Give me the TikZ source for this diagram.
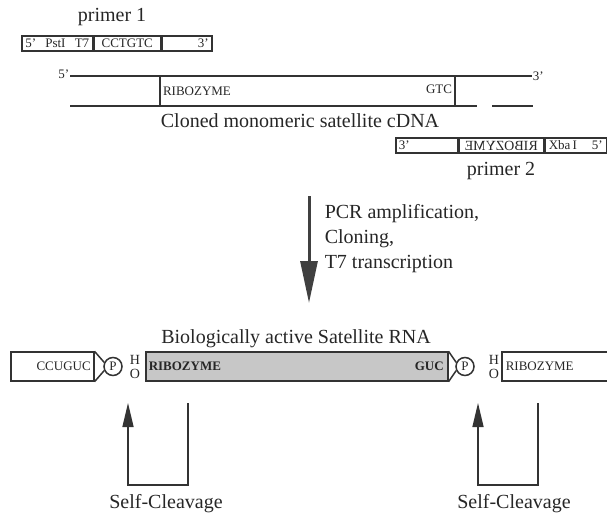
\documentclass[tikz,border=0pt]{standalone}
\usepackage{fontspec}
\setmainfont{Liberation Serif}
\usepackage{tikz}
\usetikzlibrary{arrows.meta,positioning}
\newcommand{\bigtxt}{\fontsize{20}{25}\selectfont}
\newcommand{\smalltxt}{\fontsize{13}{14}\selectfont}

\begin{document}
\begin{tikzpicture}[x=1pt,y=-1pt,line width=1.5pt,draw=black!80,text=black!85,
  seg/.style={draw,inner sep=0pt,minimum height=15pt,font=\smalltxt},
  strand/.style={draw,inner sep=0pt,minimum height=29pt},
  phos/.style={draw,circle,inner sep=0pt,minimum size=18pt,font=\smalltxt},
  lbl/.style={font=\bigtxt,inner sep=0pt},
  tiny/.style={font=\smalltxt,inner sep=0pt},
  hydro/.style={font=\fontsize{14}{14}\selectfont,inner sep=0pt,align=center},
  cleave/.style={line width=1.5pt,-{Triangle[length=24pt,width=11pt]}},
  ]
\useasboundingbox (0,0) rectangle (607,513);

\node[lbl] (P1) at (112,17) {primer 1};
\node[seg,minimum width=71pt,anchor=west] (P1a) at (21,43.5) {\makebox[64pt]{5'\hfill PstI\hfill T7}};
\node[seg,minimum width=66pt,right=0pt of P1a] (P1b) {CCTGTC};
\node[seg,minimum width=50pt,right=0pt of P1b] (P1c) {\makebox[44pt][r]{3'}};

\coordinate (T5) at (70,76);
\coordinate (T3) at (532,76);
\coordinate (B5) at (70,106);
\coordinate (G1) at (477,106);
\coordinate (G2) at (492,106);
\coordinate (B3) at (533,106);
\node[draw,inner sep=0pt,minimum width=295pt,minimum height=30pt] (RZ) at (307.5,91) {};
\draw (T5) -- (T3);
\draw (B5) -- (G1);
\draw (G2) -- (B3);
\node[tiny,anchor=east] (L5) at ([yshift=2pt]T5) {5'};
\node[tiny,anchor=west] (L3) at (T3) {3'};
\node[tiny,anchor=west] (RZa) at ([xshift=3pt]RZ.west) {RIBOZYME};
\node[tiny,anchor=east] (RZb) at ([xshift=-3pt,yshift=2pt]RZ.east) {GTC};
\node[lbl] (Cl) at (300,121) {Cloned monomeric satellite cDNA};

\node[seg,minimum width=62pt,anchor=west] (P2a) at (395,145.5) {\makebox[56pt][l]{3'}};
\node[seg,minimum width=84pt,right=0pt of P2a] (P2b) {\reflectbox{\fontsize{14}{14}\selectfont RIBOZYME}};
\node[seg,minimum width=62pt,right=0pt of P2b] (P2c) {\makebox[54pt]{Xba\,I\hfill 5'}};
\node[lbl] (P2) at (501,171) {primer 2};

\coordinate (A0) at (309,196);
\coordinate (A1) at (309,303);
\draw[line width=3pt,draw=black!75,-{Triangle[length=42pt,width=17pt]}] (A0) -- (A1);
\node[lbl,anchor=north west,align=left] (Steps) at (324,204) {PCR amplification,\\Cloning,\\T7 transcription};

\node[lbl] (Title) at (296,339) {Biologically active Satellite RNA};
\node[strand,minimum width=83pt,anchor=west] (Lb) at (10,366.5) {};
\node[tiny,anchor=east] (Lt) at ([xshift=-3pt]Lb.east) {CCUGUC};
\node[phos] (PL) at (113,366.5) {P};
\draw (Lb.north east) -- (PL.155);
\draw (Lb.south east) -- (PL.205);
\node[hydro] (HL) at (135,366.5) {H\\O};
\node[strand,fill=black!22,minimum width=302pt,anchor=west] (Mb) at (145,366.5) {};
\node[tiny,anchor=west] (Mt1) at ([xshift=3pt]Mb.west) {\bfseries RIBOZYME};
\node[tiny,anchor=east] (Mt2) at ([xshift=-4pt]Mb.east) {\bfseries GUC};
\node[phos] (PR) at (465,366.5) {P};
\draw (Mb.north east) -- (PR.155);
\draw (Mb.south east) -- (PR.205);
\node[hydro] (HR) at (494,366.5) {H\\O};
\node[strand,minimum width=125pt,anchor=west] (Rb) at (501,366.5) {};
\node[tiny,anchor=west] (Rt) at ([xshift=4pt]Rb.west) {RIBOZYME};

\coordinate (CL1) at (188,403);
\coordinate (CL2) at (188,485);
\coordinate (CL3) at (128,485);
\coordinate (CL4) at (128,403);
\draw[cleave] (CL1) -- (CL2) -- (CL3) -- (CL4);
\node[lbl] (SC1) at (166,504) {Self-Cleavage};
\coordinate (CR1) at (538,403);
\coordinate (CR2) at (538,485);
\coordinate (CR3) at (478,485);
\coordinate (CR4) at (478,403);
\draw[cleave] (CR1) -- (CR2) -- (CR3) -- (CR4);
\node[lbl] (SC2) at (514,504) {Self-Cleavage};
\end{tikzpicture}
\end{document}
